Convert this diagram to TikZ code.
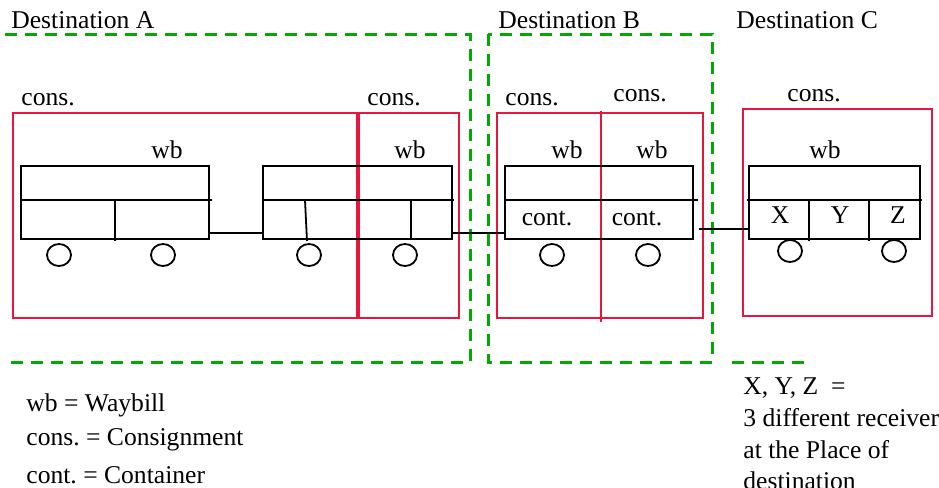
\documentclass[tikz,border=0pt]{standalone}
\usepackage{fontspec}
\setmainfont{Liberation Serif}
\usepackage{tikz}

\definecolor{destgreen}{RGB}{0,170,0}
\definecolor{consred}{RGB}{235,20,60}

\tikzset{
  dest/.style={draw=destgreen,line width=1.5pt,dash pattern=on 6pt off 4pt},
  cons/.style={draw=consred,line width=0.9pt},
  wagon/.style={draw=black,line width=0.9pt,rectangle,inner sep=0pt,minimum height=36.5pt},
  part/.style={draw=black,line width=0.9pt},
  label/.style={inner sep=0pt,anchor=west},
}

\begin{document}
\begin{tikzpicture}[x=0.5pt,y=-0.5pt,font=\fontsize{12.8}{15}\selectfont]
\useasboundingbox (0,0) rectangle (939,488);
\clip (0,0) rectangle (939,488);

% destinations
\begin{scope}[every node/.style={label}]
  \node (dA) at (11,20) {Destination A};
  \node (dB) at (498,20) {Destination B};
  \node (dC) at (736,20) {Destination C};
\end{scope}
\draw[dest] (5,34) -- (470,34) -- (470,362) -- (5,362);
\draw[dest] (488,34) rectangle (712,362);
\draw[dest] (732,362) -- (804,362);

% consignments
\draw[cons] (13,113) rectangle (357,318);
\draw[cons] (359,113) rectangle (459,318);
\draw[cons] (497,113) rectangle (703,318);
\draw[cons] (601,111) -- (601,322);
\draw[cons] (743,109) rectangle (932,316);
\begin{scope}[every node/.style={label}]
  \node (c1) at (21,100) {cons.};
  \node (c2) at (367,100) {cons.};
  \node (c3) at (505,100) {cons.};
  \node (c4) at (613,96) {cons.};
  \node (c5) at (787,96) {cons.};
\end{scope}

% wagons
\node[wagon,minimum width=94pt] (w1) at (115,202.5) {};
\node[wagon,minimum width=94.5pt] (w2) at (357.5,202.5) {};
\node[wagon,minimum width=94pt] (w3) at (599,202.5) {};
\node[wagon,minimum width=85.5pt] (w4) at (834.5,202.5) {};

\draw[part] (w1.west |- 0,200) -- (212,200);
\draw[part] (115,200) -- (115,241);
\draw[part] (w2.west |- 0,200) -- (454,200);
\draw[part] (305,200) -- (307,241);
\draw[part] (411,200) -- (411,239);
\draw[part] (w3.west |- 0,200) -- (698,200);
\draw[part] (747,200) -- (922,200);
\draw[part] (809,200) -- (809,241);
\draw[part] (869,200) -- (869,241);

% couplings
\draw[part] (w1.east |- 0,233) -- (w2.west |- 0,233);
\draw[part] (w2.east |- 0,233) -- (w3.west |- 0,233);
\draw[part] (699,229) -- (w4.west |- 0,229);

% wheels
\foreach \x in {59,163,309,405,552,648}
  \draw[part] (\x,255) ellipse (6pt and 5.5pt);
\foreach \x in {790,894}
  \draw[part] (\x,251) ellipse (6pt and 5.5pt);

% waybills and contents
\begin{scope}[every node/.style={inner sep=0pt}]
  \node (wb1) at (167,150) {wb};
  \node (wb2) at (410,150) {wb};
  \node (wb3) at (567,150) {wb};
  \node (wb4) at (652,150) {wb};
  \node (wb5) at (825,150) {wb};
  \node (ct1) at (547,218) {cont.};
  \node (ct2) at (637,218) {cont.};
  \node (rx) at (780,215) {X};
  \node (ry) at (840,215) {Y};
  \node (rz) at (898,215) {Z};
\end{scope}

% legend
\begin{scope}[every node/.style={label}]
  \node (l1) at (26,405) {wb = Waybill};
  \node (l2) at (26,440) {cons.\ = Consignment};
  \node (l3) at (26,475) {cont.\ = Container};
  \node (n1) at (743,388) {X, Y, Z \ =};
  \node (n2) at (743,418) {3 different receivers};
  \node (n3) at (743,450) {at the Place of};
  \node (n4) at (743,481) {destination};
\end{scope}
\end{tikzpicture}
\end{document}
